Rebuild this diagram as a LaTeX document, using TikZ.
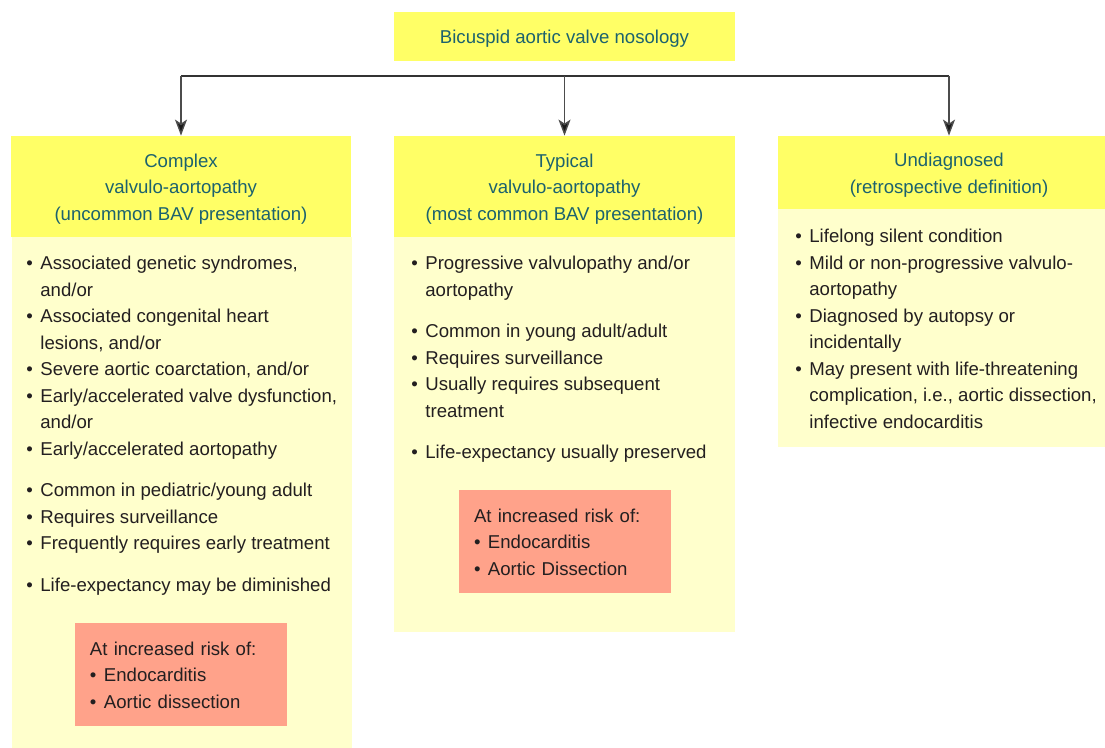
\documentclass[tikz,border=0pt]{standalone}
\usepackage{fontspec}
\setmainfont{Liberation Sans}
\usetikzlibrary{arrows.meta}
\definecolor{HeadClr}{RGB}{255,255,102}
\definecolor{BodyClr}{RGB}{255,255,204}
\definecolor{RiskClr}{RGB}{255,162,138}
\definecolor{TitleTxt}{RGB}{28,98,110}
\definecolor{BodyTxt}{RGB}{35,31,32}
\newcommand{\bul}{\makebox[7pt][l]{\textbullet}}
\newcommand{\ind}{\hspace*{7pt}}

\begin{document}
\begin{tikzpicture}[x=0.5pt,y=-0.5pt,
  txt/.style={font=\fontsize{9.3}{13.25}\selectfont\frenchspacing},
  head/.style={fill=HeadClr,inner sep=0pt},
  headtxt/.style={txt,text=TitleTxt,align=center,inner sep=0pt},
  list/.style={txt,text=BodyTxt,align=left,inner sep=0pt,anchor=north west},
  risk/.style={txt,fill=RiskClr,text=BodyTxt,align=left,inner xsep=7.5pt,
    inner ysep=0pt,text width=91pt,minimum height=51.5pt},
  link/.style={line width=0.7pt,draw=black!70},
  arr/.style={link,-{Stealth[length=8pt,width=6pt,inset=2pt,fill=black!90]}}]
\useasboundingbox (0,0) rectangle (1105,748);

% body backgrounds
\fill[BodyClr] (12,237) rectangle (352,748);
\fill[BodyClr] (394,237) rectangle (735,632);
\fill[BodyClr] (778,209) rectangle (1120,447);

% title and column heads
\node[head,minimum width=170.5pt,minimum height=24.5pt] (title) at (564.5,36.5) {};
\node[head,minimum width=170pt,minimum height=50.5pt] (hdL) at (181,186.5) {};
\node[head,minimum width=170.5pt,minimum height=50.5pt] (hdM) at (564.5,186.5) {};
\node[head,minimum width=171pt,minimum height=36.5pt] (hdR) at (949,172.5) {};

\node[headtxt] (titleT) at (564.5,38.5) {Bicuspid aortic valve nosology};
\node[headtxt] (hdLT) at (181,189)
  {Complex\\valvulo-aortopathy\\(uncommon BAV presentation)};
\node[headtxt] (hdMT) at (564.5,189)
  {Typical\\valvulo-aortopathy\\(most common BAV presentation)};
\node[headtxt] (hdRT) at (949,175)
  {Undiagnosed\\(retrospective definition)};

% connectors
\coordinate (bar) at (564.5,76);
\draw[link,draw=black!80] (bar -| hdL.north) -- (bar -| hdR.north);
\draw[arr] (bar -| hdL.north) -- (hdL.north);
\draw[arr] (bar) -- (hdM.north);
\draw[arr] (bar -| hdR.north) -- (hdR.north);

% lists
\node[list] (lstL) at (26,256)
  {\bul Associated genetic syndromes,\\
   \ind and/or\\
   \bul Associated congenital heart\\
   \ind lesions, and/or\\
   \bul Severe aortic coarctation, and/or\\
   \bul Early/accelerated valve dysfunction,\\
   \ind and/or\\
   \bul Early/accelerated aortopathy\\[7.5pt]
   \bul Common in pediatric/young adult\\
   \bul Requires surveillance\\
   \bul Frequently requires early treatment\\[7.5pt]
   \bul Life-expectancy may be diminished};
\node[list] (lstM) at (411,256)
  {\bul Progressive valvulopathy and/or\\
   \ind aortopathy\\[7.5pt]
   \bul Common in young adult/adult\\
   \bul Requires surveillance\\
   \bul Usually requires subsequent\\
   \ind treatment\\[7.5pt]
   \bul Life-expectancy usually preserved};
\node[list] (lstR) at (795,229)
  {\bul Lifelong silent condition\\
   \bul Mild or non-progressive valvulo-\\
   \ind aortopathy\\
   \bul Diagnosed by autopsy or\\
   \ind incidentally\\
   \bul May present with life-threatening\\
   \ind complication, i.e., aortic dissection,\\
   \ind infective endocarditis};

% risk boxes
\node[risk] (rskL) at (181,675)
  {At increased risk of:\\ \bul Endocarditis\\ \bul Aortic dissection};
\node[risk] (rskM) at (565,542)
  {At increased risk of:\\ \bul Endocarditis\\ \bul Aortic Dissection};
\end{tikzpicture}
\end{document}
